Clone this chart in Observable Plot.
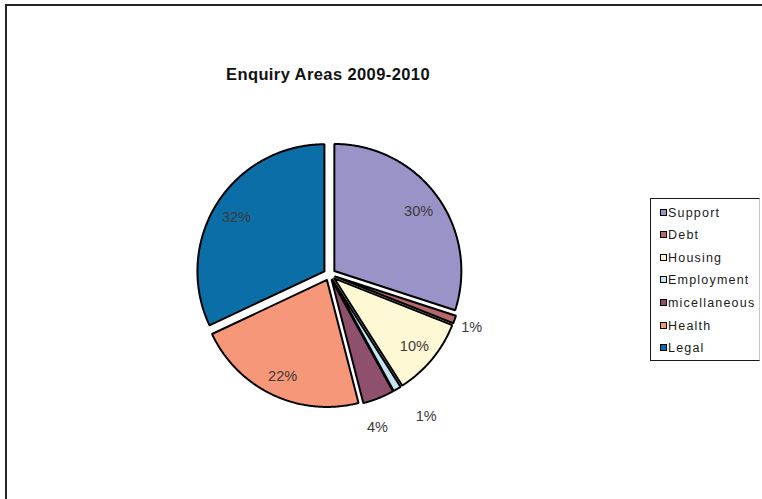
<!DOCTYPE html>
<html><head><meta charset="utf-8">
<script src="https://cdn.jsdelivr.net/npm/d3@7"></script>
<script src="https://cdn.jsdelivr.net/npm/@observablehq/plot@0.6"></script>
<style>
body{margin:0;background:#fff;}
#wrap{position:relative;width:762px;height:499px;overflow:hidden;background:#fff;font-family:"Liberation Sans",Arial,sans-serif;}
#frame{position:absolute;left:5px;top:4px;width:900px;height:700px;border-left:2px solid #262626;border-top:2px solid #262626;}
#chart{position:absolute;left:0;top:0;}
#title{position:absolute;left:0;width:656px;top:65px;line-height:19px;text-align:center;font-weight:bold;font-size:16.5px;letter-spacing:0.4px;color:#111;}
#legend{position:absolute;left:650px;top:198px;width:108px;height:161px;border:1px solid #1a1a1a;border-right-color:#c8c8c8;}
.row{position:absolute;left:9px;height:16px;line-height:16px;font-size:12.5px;letter-spacing:1.2px;color:#1a1a1a;white-space:nowrap;}
.sw{display:inline-block;width:5px;height:5px;border:1px solid #000;margin-right:1px;vertical-align:1px;}
</style></head>
<body>
<div id="wrap">
  <div id="frame"></div>
  <div id="chart"></div>
  <div id="title"></div>
  <div id="legend"></div>
</div>
<script>
const categories = ["Support","Debt","Housing","Employment","micellaneous","Health","Legal"];
const percents = [30,1,10,1,4,22,32];
const colors = ["#9a93c8","#b5676b","#fff8d5","#c4e4f4","#8f506d","#f59778","#0b6ea6"];
const title = "Enquiry Areas 2009-2010";

const total = d3.sum(percents);
const explode = 6/127;
const slices = [];
let acc = 0;
categories.forEach((name, i) => {
  const a0 = acc / total * 2 * Math.PI;
  acc += percents[i];
  const a1 = acc / total * 2 * Math.PI;
  slices.push({name, value: percents[i], a0, a1, mid: (a0 + a1) / 2});
});

// polygon points per slice (bearing clockwise from 12 o'clock)
const pts = [];
for (const s of slices) {
  const ox = explode * Math.sin(s.mid), oy = explode * Math.cos(s.mid);
  pts.push({name: s.name, x: ox, y: oy});
  const n = Math.max(2, Math.ceil((s.a1 - s.a0) / (Math.PI / 360)));
  for (let k = 0; k <= n; k++) {
    const a = s.a0 + (s.a1 - s.a0) * k / n;
    pts.push({name: s.name, x: ox + Math.sin(a), y: oy + Math.cos(a)});
  }
  pts.push({name: s.name, x: ox, y: oy});
}

// labels
const labels = slices.map(s => {
  const pct = Math.round(s.value / total * 100);
  const out = pct < 5;
  return {text: pct + "%", out, ang: s.mid, r: out ? 1.19 : 0.82};
});
const minSep = 17 * Math.PI / 180;
const outs = labels.filter(d => d.out).sort((a, b) => a.ang - b.ang);
for (let i = 1; i < outs.length; i++) {
  const p = outs[i - 1], q = outs[i];
  if (q.ang - p.ang < minSep) {
    const m = (p.ang + q.ang) / 2;
    p.ang = m - minSep / 2; q.ang = m + minSep / 2;
    p.r = 1.34; q.r = 1.25;
  }
}
labels.forEach((d, i) => {
  const s = slices[i];
  const ox = d.out ? 0 : explode * Math.sin(s.mid), oy = d.out ? 0 : explode * Math.cos(s.mid);
  d.x = ox + d.r * Math.sin(d.ang);
  d.y = oy + d.r * Math.cos(d.ang);
});

const chart = Plot.plot({
  width: 762, height: 499, margin: 0,
  x: {domain: [-1, 1], range: [202, 456], axis: null},
  y: {domain: [-1, 1], range: [401, 147], axis: null},
  color: {domain: categories, range: colors},
  style: {background: "transparent", fontFamily: "'Liberation Sans', Arial, sans-serif"},
  marks: [
    Plot.line(pts, {x: "x", y: "y", z: "name", fill: "name", stroke: "#000", strokeWidth: 2, strokeLinejoin: "miter", curve: "linear"}),
    Plot.text(labels, {x: "x", y: "y", text: "text", fontSize: 14.5, fill: "#3a3a3a", dy: 2})
  ]
});
document.getElementById("chart").appendChild(chart);
document.getElementById("title").textContent = title;

const legend = document.getElementById("legend");
categories.forEach((c, i) => {
  const row = document.createElement("div");
  row.className = "row";
  row.style.top = (5.5 + i * 22.6) + "px";
  const sw = document.createElement("span");
  sw.className = "sw";
  sw.style.background = colors[i];
  row.appendChild(sw);
  row.appendChild(document.createTextNode(c));
  legend.appendChild(row);
});
</script>
</body></html>
